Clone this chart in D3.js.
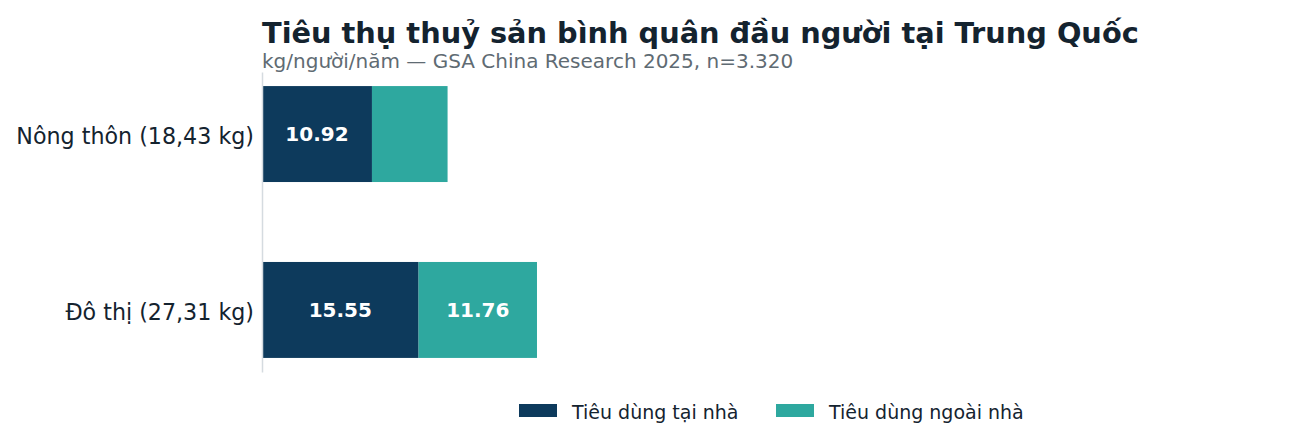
<!DOCTYPE html>
<html>
<head>
<meta charset="utf-8">
<script src="https://cdn.jsdelivr.net/npm/d3@7"></script>
<style>
  body { margin: 0; background: #fff; }
  svg text { font-family: "DejaVu Sans", sans-serif; }
</style>
</head>
<body>
<div id="figure_area"></div>
<script>
// ----- data
var categories = ["Nông thôn (18,43 kg)", "Đô thị (27,31 kg)"];
var seriesNames = ["Tiêu dùng tại nhà", "Tiêu dùng ngoài nhà"];
var homeValues = [10.92, 15.55];
var outsideValues = [7.51, 11.76];
var seriesColors = ["#0d3a5c", "#2ea89f"];

const figure_size = { width: 1296, height: 445 };

var svg = d3.select("#figure_area")
    .append("svg")
    .attr("width", figure_size.width)
    .attr("height", figure_size.height);

// scales
var x_scale = d3.scaleLinear()
    .domain([0, 87])
    .range([262, 1138]);

var y_scale = d3.scaleBand()
    .domain(categories)
    .range([72, 372])
    .paddingInner(0.4545)
    .paddingOuter(0.08);

// stacked data
var rows = categories.map(function (c, i) {
    return { cat: c, home: homeValues[i], outside: outsideValues[i] };
});
var stack = d3.stack().keys(["home", "outside"]);
var layers = stack(rows);

// title
svg.append("text")
    .attr("x", 262)
    .attr("y", 43)
    .attr("font-size", 28.8)
    .attr("font-weight", "bold")
    .attr("fill", "#14232f")
    .text("Tiêu thụ thuỷ sản bình quân đầu người tại Trung Quốc");

svg.append("text")
    .attr("x", 262)
    .attr("y", 68)
    .attr("font-size", 20)
    .attr("fill", "#5f6b73")
    .text("kg/người/năm — GSA China Research 2025, n=3.320");

// bars
var groups = svg.selectAll("g.layer")
    .data(layers)
    .enter()
    .append("g")
    .attr("class", "layer")
    .attr("fill", function (d, i) { return seriesColors[i]; });

groups.selectAll("rect")
    .data(function (d) { return d; })
    .enter()
    .append("rect")
    .attr("x", function (d) { return x_scale(d[0]); })
    .attr("y", function (d) { return y_scale(d.data.cat); })
    .attr("width", function (d) { return x_scale(d[1]) - x_scale(d[0]); })
    .attr("height", y_scale.bandwidth());

// value labels (only when the segment is wide enough)
groups.selectAll("text")
    .data(function (d) { return d; })
    .enter()
    .filter(function (d) { return x_scale(d[1]) - x_scale(d[0]) > 90; })
    .append("text")
    .attr("x", function (d) { return (x_scale(d[0]) + x_scale(d[1])) / 2; })
    .attr("y", function (d) { return y_scale(d.data.cat) + y_scale.bandwidth() / 2; })
    .attr("dy", "0.35em")
    .attr("text-anchor", "middle")
    .attr("font-size", 20)
    .attr("font-weight", "bold")
    .attr("fill", "#ffffff")
    .text(function (d) { return (d[1] - d[0]).toFixed(2); });

// y axis
var y_axis = d3.axisLeft(y_scale).tickSize(0).tickPadding(8);
var gy = svg.append("g")
    .attr("transform", "translate(262,0)")
    .call(y_axis);
gy.select(".domain").attr("stroke", "#d5dbe0").attr("stroke-width", 1.5);
gy.selectAll(".tick text")
    .attr("font-size", 22.2)
    .attr("dy", "0.46em")
    .attr("fill", "#14232f")
    .attr("font-family", "DejaVu Sans, sans-serif");

// legend
var legendX = [519, 776];
var legend = svg.selectAll("g.legend")
    .data(seriesNames)
    .enter()
    .append("g")
    .attr("class", "legend")
    .attr("transform", function (d, i) { return "translate(" + legendX[i] + ",404)"; });
legend.append("rect")
    .attr("width", 38)
    .attr("height", 13)
    .attr("fill", function (d, i) { return seriesColors[i]; });
legend.append("text")
    .attr("x", 53)
    .attr("y", 8)
    .attr("dy", "0.35em")
    .attr("font-size", 19)
    .attr("fill", "#14232f")
    .text(function (d) { return d; });
</script>
</body>
</html>
